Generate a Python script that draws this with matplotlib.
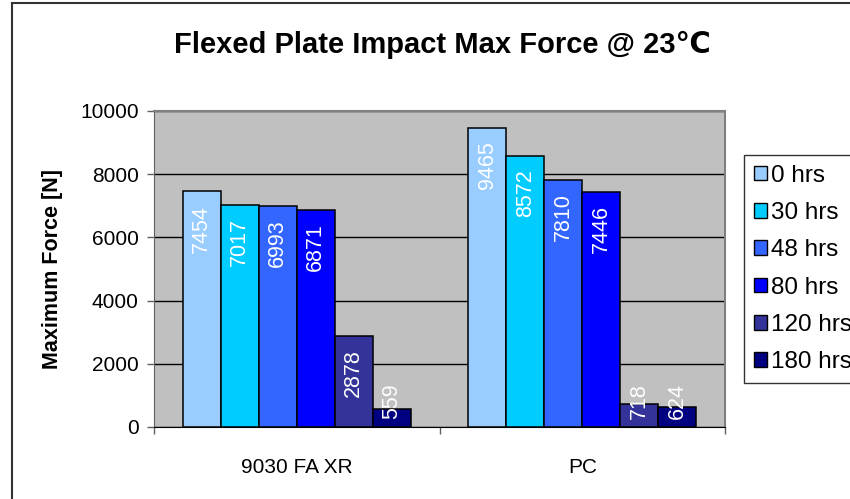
import numpy as np
import matplotlib.pyplot as plt
from matplotlib.lines import Line2D

plt.rcParams['font.family'] = ['Liberation Sans', 'DejaVu Sans']

# donnees
categories = ['9030 FA XR', 'PC']
series = ['0 hrs', '30 hrs', '48 hrs', '80 hrs', '120 hrs', '180 hrs']
values = [
    [7454, 9465],
    [7017, 8572],
    [6993, 7810],
    [6871, 7446],
    [2878, 718],
    [559, 624],
]
colors = ['#99CCFF', '#00CCFF', '#3366FF', '#0000FF', '#333399', '#000080']

fig = plt.figure(figsize=(8.5, 4.99), dpi=100)
ax = fig.add_axes([154/850., 1-427/499., 571/850., 316/499.])
ax.set_facecolor('#C0C0C0')

x = np.arange(len(categories))
w = 0.8/len(series)
for i in range(len(series)):
    pos = x - 0.4 + w*(i+0.5)
    ax.bar(pos, values[i], w, color=colors[i], edgecolor='black', linewidth=1.1,
           label=series[i], zorder=3)
    for p, v in zip(pos, values[i]):
        if v < 1500:  # trop petit : etiquette posee sur la base
            ax.annotate(str(v), (p, 0), xytext=(0, 6), textcoords='offset points',
                        rotation=90, ha='center', va='bottom', color='white',
                        fontsize=15.5, zorder=4)
        else:
            ax.annotate(str(v), (p, v), xytext=(0, -9.5), textcoords='offset points',
                        rotation=90, ha='center', va='top', color='white',
                        fontsize=15.5, zorder=4)

ax.set_xlim(-0.5, len(categories)-0.5)
ax.set_ylim(0, 10000)
ax.set_yticks(np.arange(0, 10001, 2000))
ax.yaxis.grid(True, color='black', linewidth=1, zorder=1)
ax.set_axisbelow(True)
ax.tick_params(axis='y', labelsize=15, length=5, width=1, color='#606060', pad=6)

# ticks de l'axe x aux frontieres des categories
ax.set_xticks(np.arange(-0.5, len(categories), 1.0))
ax.set_xticklabels([])
ax.set_xticks(x, minor=True)
ax.set_xticklabels(categories, minor=True, fontsize=15)
ax.tick_params(axis='x', which='major', length=5, width=1, color='#606060')
ax.tick_params(axis='x', which='minor', length=0, pad=22)

for s in ['top', 'right']:
    ax.spines[s].set_color('#808080')
    ax.spines[s].set_linewidth(1.5)
ax.spines['left'].set_color('#606060')
ax.spines['bottom'].set_color('black')

ax.set_ylabel('Maximum Force [N]', fontsize=15.5, fontweight='bold', labelpad=12)
fig.text(442/850., 1-45/499., u'Flexed Plate Impact Max Force @ 23\u2103',
         ha='center', va='center', fontsize=21, fontweight='bold')

# legende (coupee au bord droit comme dans l'original)
leg = fig.legend(loc='upper left', bbox_to_anchor=(744/850., 1-155/499.),
                 bbox_transform=fig.transFigure, fontsize=17.5, frameon=True,
                 fancybox=False, borderaxespad=0, handlelength=0.55,
                 handleheight=0.55, handletextpad=0.15, labelspacing=0.63,
                 borderpad=0.4)
leg.get_frame().set_edgecolor('black')
leg.get_frame().set_linewidth(1)
for h in leg.legend_handles:
    h.set_edgecolor('black')
    h.set_linewidth(1)

# cadre du graphique
fig.add_artist(Line2D([12/850., 12/850.], [0, 1-2.5/499.], transform=fig.transFigure,
                      color='#333333', linewidth=1.5))
fig.add_artist(Line2D([12/850., 1], [1-2.5/499., 1-2.5/499.], transform=fig.transFigure,
                      color='#333333', linewidth=1.5))

plt.savefig('out.png', dpi=100)
